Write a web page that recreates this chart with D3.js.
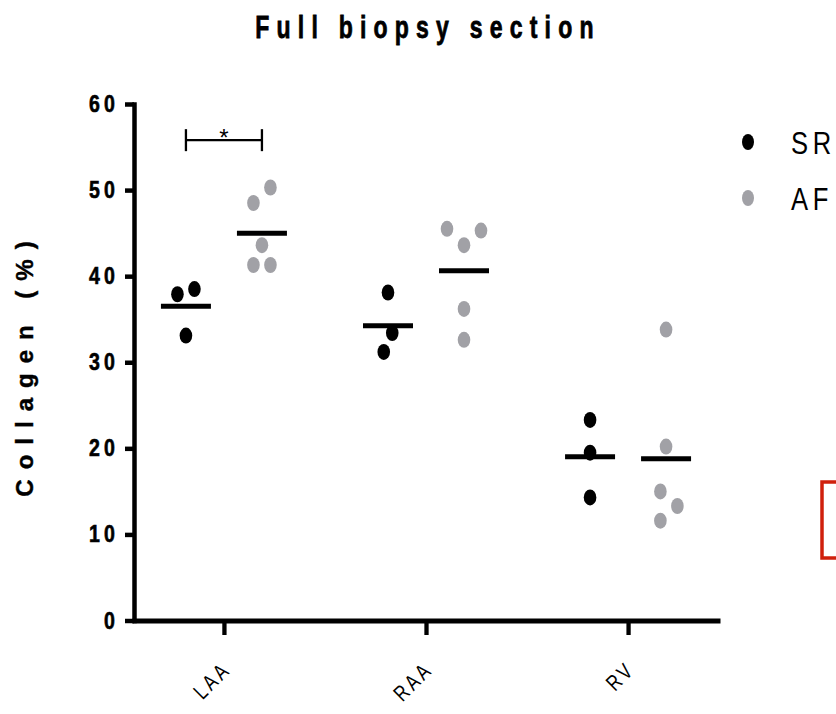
<!DOCTYPE html>
<html>
<head>
<meta charset="utf-8">
<script src="https://cdn.jsdelivr.net/npm/d3@7"></script>
<style>
  body { margin: 0; background: #fff; }
  svg { display: block; }
</style>
</head>
<body>
<svg id="chart"></svg>
<script>
// data
var categories = ["LAA", "RAA", "RV"];
var groups = ["SR", "AF"];
var srValues = [[38.5, 37.9, 33.1], [38.1, 33.4, 31.2], [23.3, 19.5, 14.3]];
var afValues = [[50.3, 48.5, 43.6, 41.3, 41.3], [45.5, 45.3, 43.6, 36.2, 32.6], [33.8, 20.2, 15.0, 13.3, 11.6]];
var yTicks = [0, 10, 20, 30, 40, 50, 60];
var sigCategory = "LAA", sigLabel = "*", sigLevel = 55.8;

var width = 836, height = 714;
var font = "'Liberation Sans', Arial, sans-serif";

var svg = d3.select("#chart")
    .attr("width", width)
    .attr("height", height);

var y = d3.scaleLinear().domain([0, 60]).range([620.5, 104]);
var x = d3.scalePoint().domain(categories).range([132, 720]).padding(0.455);
var xSub = d3.scalePoint().domain(groups).range([-38, 38]);
var color = d3.scaleOrdinal().domain(groups).range(["#000000", "#a1a1a6"]);

// text helper, glyphs in the figure are narrow and spaced out
function label(parent, tx, ty, txt, o) {
  var t = "translate(" + tx + "," + ty + ")";
  if (o.rot) t += " rotate(" + o.rot + ")";
  t += " scale(" + (o.sx || 1) + ",1)";
  var el = parent.append("g").attr("transform", t)
    .append("text")
    .attr("text-anchor", o.anchor || "start")
    .style("font-family", font)
    .style("font-size", o.size + "px")
    .style("font-weight", o.bold ? "bold" : "normal")
    .style("letter-spacing", (o.ls || 0) + "px")
    .attr("fill", "#000")
    .text(txt);
  if (o.heavy) el.attr("stroke", "#000").attr("stroke-width", o.heavy);
  return el;
}

// title
label(svg, 428, 38, "Full biopsy section", {size: 32, bold: true, sx: 0.72, ls: 10, anchor: "middle", heavy: 0.8});

// y axis
var yAxis = svg.append("g")
    .attr("transform", "translate(134,0)")
    .call(d3.axisLeft(y).tickValues(yTicks).tickSize(9).tickSizeOuter(0).tickFormat(""));
yAxis.select(".domain").attr("stroke", "#000").attr("stroke-width", 4.5).attr("stroke-linecap", "square");
yAxis.selectAll(".tick line").attr("stroke", "#000").attr("stroke-width", 4.5);

yTicks.forEach(function (t) {
  label(svg, 115 + 5 * 0.85, y(t) + 8, String(t), {size: 23, bold: true, sx: 0.85, ls: 5, anchor: "end", heavy: 0.6});
});

label(svg, 33, 364, "Collagen (%)", {size: 24, bold: true, ls: 10, rot: -90, anchor: "middle", heavy: 0.4});

// x axis
var xAxis = svg.append("g")
    .attr("transform", "translate(0," + y(0) + ")")
    .call(d3.axisBottom(x).tickSize(14.5).tickSizeOuter(0).tickFormat(""));
xAxis.select(".domain").attr("stroke", "#000").attr("stroke-width", 5);
xAxis.selectAll(".tick line").attr("stroke", "#000").attr("stroke-width", 4.3);

categories.forEach(function (c) {
  label(svg, x(c) + 8, 671, c, {size: 22, sx: 0.78, ls: 4, rot: -45, anchor: "end"});
});

// simple swarm: spread points that would overlap, then center each cluster
function swarm(vals) {
  var pts = vals.map(function (v) { return {v: v, py: y(v), dx: 0}; });
  var order = pts.slice().sort(function (a, b) { return a.v - b.v; });
  var step = 8.5;
  var cand = [0, step, -step, 2 * step, -2 * step, 3 * step, -3 * step];
  var placed = [];
  order.forEach(function (p) {
    for (var k = 0; k < cand.length; k++) {
      var ok = placed.every(function (q) {
        var ex = (cand[k] - q.dx) / 16, ey = (p.py - q.py) / 20;
        return ex * ex + ey * ey >= 1;
      });
      if (ok) { p.dx = cand[k]; break; }
    }
    placed.push(p);
  });
  var cluster = [];
  function flush() {
    var m = d3.mean(cluster, function (d) { return d.dx; });
    cluster.forEach(function (d) { d.dx -= m; });
    cluster = [];
  }
  order.forEach(function (p, i) {
    if (i > 0 && Math.abs(p.py - order[i - 1].py) >= 20) flush();
    cluster.push(p);
  });
  flush();
  return pts;
}

var series = [
  {group: "SR", values: srValues},
  {group: "AF", values: afValues}
];

var plot = svg.append("g");
series.forEach(function (s) {
  categories.forEach(function (c, ci) {
    var cx = x(c) + xSub(s.group);
    var pts = swarm(s.values[ci]);
    plot.selectAll(null)
      .data(pts)
      .enter().append("ellipse")
      .attr("cx", function (d) { return cx + d.dx; })
      .attr("cy", function (d) { return d.py; })
      .attr("rx", 6.3)
      .attr("ry", 8)
      .attr("fill", color(s.group));
    plot.append("line")
      .attr("x1", cx - 25)
      .attr("x2", cx + 25)
      .attr("y1", y(d3.mean(s.values[ci])))
      .attr("y2", y(d3.mean(s.values[ci])))
      .attr("stroke", "#000")
      .attr("stroke-width", 5);
  });
});

// significance bracket
var bx1 = x(sigCategory) + xSub("SR"), bx2 = x(sigCategory) + xSub("AF"), by = y(sigLevel);
var br = svg.append("g").attr("stroke", "#000").attr("stroke-width", 2.3);
br.append("line").attr("x1", bx1).attr("x2", bx2).attr("y1", by).attr("y2", by);
br.append("line").attr("x1", bx1).attr("x2", bx1).attr("y1", by - 11).attr("y2", by + 11);
br.append("line").attr("x1", bx2).attr("x2", bx2).attr("y1", by - 11).attr("y2", by + 11);
svg.append("text")
    .attr("x", (bx1 + bx2) / 2)
    .attr("y", by + 6)
    .attr("text-anchor", "middle")
    .style("font-family", font)
    .style("font-size", "24px")
    .text(sigLabel);

// legend
var legend = svg.append("g");
groups.forEach(function (g, i) {
  var ly = 142 + i * 56;
  legend.append("ellipse")
    .attr("cx", 748)
    .attr("cy", ly)
    .attr("rx", 6)
    .attr("ry", 8)
    .attr("fill", color(g));
  label(legend, 791, ly + 12, g, {size: 32, sx: 0.8, ls: 6});
});

// red frame cut by the right edge
svg.append("rect")
    .attr("x", 822)
    .attr("y", 482)
    .attr("width", 40)
    .attr("height", 76)
    .attr("fill", "none")
    .attr("stroke", "#d0200c")
    .attr("stroke-width", 3.5);
</script>
</body>
</html>
